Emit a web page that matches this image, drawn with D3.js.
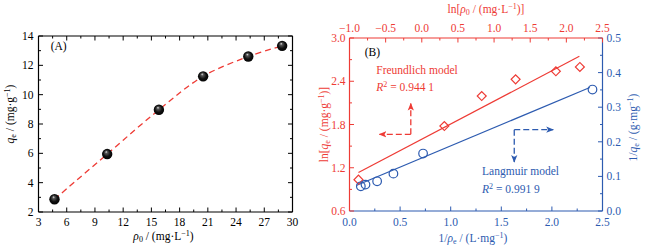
<!DOCTYPE html>
<html><head><meta charset="utf-8">
<script src="https://cdn.jsdelivr.net/npm/d3@7"></script>
<style>
html,body{margin:0;padding:0;background:#fff;}
svg{display:block;font-family:"Liberation Serif","Times New Roman",serif;}
</style></head>
<body>
<svg id="c" width="646" height="252"></svg>
<script>
// ---------- data ----------
// Panel A
const rho0 = [4.7, 10.3, 15.8, 20.5, 25.3, 28.9];
const qe = [2.87, 5.95, 8.97, 11.25, 12.6, 13.33];
const aXTicks = [3, 6, 9, 12, 15, 18, 21, 24, 27, 30];
const aYTicks = [2, 4, 6, 8, 10, 12, 14];
// Panel B - Freundlich (top / left axes)
const lnRho = [-0.876, 0.312, 0.829, 1.298, 1.855, 2.187];
const lnQe = [1.035, 1.779, 2.195, 2.427, 2.538, 2.598];
const freundFit = [[-0.876, 1.133], [2.18, 2.746]];
// Panel B - Langmuir (bottom / right axes)
const invRho = [0.112, 0.158, 0.273, 0.434, 0.727, 2.401];
const invQe = [0.0714, 0.0763, 0.0858, 0.108, 0.166, 0.351];
const langFit = [[0.073, 0.0743], [2.375, 0.357]];
const bTopTicks = [-1.0, -0.5, 0.0, 0.5, 1.0, 1.5, 2.0, 2.5];
const bLeftTicks = [0.6, 1.2, 1.8, 2.4, 3.0];
const bBottomTicks = [0.0, 0.5, 1.0, 1.5, 2.0, 2.5];
const bRightTicks = [0.0, 0.1, 0.2, 0.3, 0.4, 0.5];

const RED = "#ee3b35", BLUE = "#2d5bb0";
const svg = d3.select("#c");
const fs = 11.5;

function sub(t, s) { t.append("tspan").attr("font-size", fs * 0.7).attr("baseline-shift", "-25%").text(s); }
function sup(t, s) { t.append("tspan").attr("font-size", fs * 0.7).attr("baseline-shift", "45%").text(s); }

// gradient for spheres
const defs = svg.append("defs");
const g = defs.append("radialGradient").attr("id", "sph").attr("cx", "50%").attr("cy", "50%").attr("r", "55%").attr("fx", "40%").attr("fy", "28%");
g.append("stop").attr("offset", "0%").attr("stop-color", "#e8e8e8");
g.append("stop").attr("offset", "22%").attr("stop-color", "#555");
g.append("stop").attr("offset", "60%").attr("stop-color", "#111");
g.append("stop").attr("offset", "100%").attr("stop-color", "#000");

function minorTicks(major) {
  const out = [];
  for (let i = 0; i < major.length - 1; i++) out.push((major[i] + major[i + 1]) / 2);
  return out;
}

// generic axis helper: inward ticks
function drawAxis(sel, orient, scale, ticks, color, fmt, labelOffset, showLabels) {
  const gA = sel.append("g");
  const minors = minorTicks(ticks);
  const L = 4.5, l = 2.5;
  const r = scale.range();
  const spine = gA.append("line").attr("stroke", color).attr("stroke-width", 1.2);
  if (orient === "bottom" || orient === "top") spine.attr("x1", r[0]).attr("x2", r[1]);
  else spine.attr("y1", r[0]).attr("y2", r[1]);
  const dir = (orient === "bottom" || orient === "right") ? -1 : 1;
  const addTick = (v, len) => {
    const p = scale(v);
    if (orient === "bottom" || orient === "top") gA.append("line").attr("x1", p).attr("x2", p).attr("y1", 0).attr("y2", dir * len).attr("stroke", color).attr("stroke-width", 1);
    else gA.append("line").attr("y1", p).attr("y2", p).attr("x1", 0).attr("x2", dir * len).attr("stroke", color).attr("stroke-width", 1);
  };
  ticks.forEach(v => addTick(v, L));
  minors.forEach(v => addTick(v, l));
  if (showLabels) {
    ticks.forEach(v => {
      const p = scale(v);
      const t = gA.append("text").attr("fill", color).attr("font-size", fs).text(fmt(v));
      if (orient === "bottom") t.attr("x", p).attr("y", labelOffset).attr("text-anchor", "middle");
      if (orient === "top") t.attr("x", p).attr("y", -labelOffset).attr("text-anchor", "middle");
      if (orient === "left") t.attr("x", -labelOffset).attr("y", p + 4).attr("text-anchor", "end");
      if (orient === "right") t.attr("x", labelOffset).attr("y", p + 4).attr("text-anchor", "start");
    });
  }
  return gA;
}

const fmtMinus = d => (d < 0 ? "\u2212" : "") + Math.abs(d).toFixed(1);

// ---------- Panel A ----------
const A = { l: 38.5, r: 292.5, t: 36, b: 212 };
const xA = d3.scaleLinear().domain([3, 30]).range([A.l, A.r]);
const yA = d3.scaleLinear().domain([2, 14]).range([A.b, A.t]);
drawAxis(svg.append("g").attr("transform", `translate(0,${A.b})`), "bottom", xA, aXTicks, "#000", d => d, 14, true);
drawAxis(svg.append("g").attr("transform", `translate(${A.l},0)`), "left", yA, aYTicks, "#000", d => d, 5, true);
drawAxis(svg.append("g").attr("transform", `translate(0,${A.t})`), "top", xA, aXTicks, "#000", d => d, 0, false);
drawAxis(svg.append("g").attr("transform", `translate(${A.r},0)`), "right", yA, aYTicks, "#000", d => d, 0, false);

const ptsA = rho0.map((x, i) => [x, qe[i]]);
svg.append("path").datum(ptsA)
  .attr("d", d3.line().x(d => xA(d[0])).y(d => yA(d[1])).curve(d3.curveCatmullRom.alpha(0.5)))
  .attr("fill", "none").attr("stroke", RED).attr("stroke-width", 1.3).attr("stroke-dasharray", "6,4");
svg.append("g").selectAll("circle").data(ptsA).join("circle")
  .attr("cx", d => xA(d[0])).attr("cy", d => yA(d[1])).attr("r", 5.2).attr("fill", "url(#sph)");

svg.append("text").attr("x", xA(4.3)).attr("y", yA(13.02)).attr("font-size", fs).text("(A)");
{
  const t = svg.append("text").attr("font-size", fs).attr("text-anchor", "middle").attr("transform", `translate(14,${(A.t + A.b) / 2 - 10}) rotate(-90)`);
  t.append("tspan").attr("font-style", "italic").text("q");
  sub(t, "e");
  t.append("tspan").text(" / (mg\u00B7g");
  sup(t, "\u22121");
  t.append("tspan").text(")");
}
{
  const t = svg.append("text").attr("font-size", fs).attr("text-anchor", "middle").attr("x", (A.l + A.r) / 2 - 2).attr("y", 240);
  t.append("tspan").attr("font-style", "italic").text("\u03C1");
  sub(t, "0");
  t.append("tspan").text(" / (mg\u00B7L");
  sup(t, "\u22121");
  t.append("tspan").text(")");
}

// ---------- Panel B ----------
const B = { l: 349.5, r: 602.5, t: 38, b: 211 };
const xTop = d3.scaleLinear().domain([-1, 2.5]).range([B.l, B.r]);
const yLeft = d3.scaleLinear().domain([0.6, 3.0]).range([B.b, B.t]);
const xBot = d3.scaleLinear().domain([0, 2.5]).range([B.l, B.r]);
const yRight = d3.scaleLinear().domain([0, 0.5]).range([B.b, B.t]);

drawAxis(svg.append("g").attr("transform", `translate(0,${B.b})`), "bottom", xBot, bBottomTicks, BLUE, d => d.toFixed(1), 15, true);
drawAxis(svg.append("g").attr("transform", `translate(${B.r},0)`), "right", yRight, bRightTicks, BLUE, d => d.toFixed(1), 4, true);
drawAxis(svg.append("g").attr("transform", `translate(0,${B.t})`), "top", xTop, bTopTicks, RED, fmtMinus, 6, true);
drawAxis(svg.append("g").attr("transform", `translate(${B.l},0)`), "left", yLeft, bLeftTicks, RED, d => d.toFixed(1), 4, true);

// fits
svg.append("line").attr("x1", xTop(freundFit[0][0])).attr("y1", yLeft(freundFit[0][1]))
  .attr("x2", xTop(freundFit[1][0])).attr("y2", yLeft(freundFit[1][1])).attr("stroke", RED).attr("stroke-width", 1.2);
svg.append("line").attr("x1", xBot(langFit[0][0])).attr("y1", yRight(langFit[0][1]))
  .attr("x2", xBot(langFit[1][0])).attr("y2", yRight(langFit[1][1])).attr("stroke", BLUE).attr("stroke-width", 1.2);

// markers
svg.append("g").selectAll("path").data(lnRho.map((x, i) => [x, lnQe[i]])).join("path")
  .attr("d", d3.symbol(d3.symbolSquare, 40))
  .attr("transform", d => `translate(${xTop(d[0])},${yLeft(d[1])}) rotate(45)`)
  .attr("fill", "none").attr("stroke", RED).attr("stroke-width", 1.2);
svg.append("g").selectAll("circle").data(invRho.map((x, i) => [x, invQe[i]])).join("circle")
  .attr("cx", d => xBot(d[0])).attr("cy", d => yRight(d[1])).attr("r", 4.3)
  .attr("fill", "none").attr("stroke", BLUE).attr("stroke-width", 1.2);

// annotations
svg.append("text").attr("x", xTop(-0.79)).attr("y", yLeft(2.75)).attr("font-size", fs).text("(B)");
svg.append("text").attr("x", xTop(-0.63)).attr("y", yLeft(2.50)).attr("font-size", fs).attr("fill", RED).text("Freundlich model");
{
  const t = svg.append("text").attr("x", xTop(-0.63)).attr("y", yLeft(2.27)).attr("font-size", fs).attr("fill", RED);
  t.append("tspan").attr("font-style", "italic").text("R");
  sup(t, "2");
  t.append("tspan").text(" = 0.944 1");
}
svg.append("text").attr("x", xBot(1.31)).attr("y", yRight(0.103)).attr("font-size", fs).attr("fill", BLUE).text("Langmuir model");
{
  const t = svg.append("text").attr("x", xBot(1.31)).attr("y", yRight(0.051)).attr("font-size", fs).attr("fill", BLUE);
  t.append("tspan").attr("font-style", "italic").text("R");
  sup(t, "2");
  t.append("tspan").text(" = 0.991 9");
}

// arrow heads
function marker(id, color) {
  defs.append("marker").attr("id", id).attr("viewBox", "0 0 10 10").attr("refX", 9).attr("refY", 5)
    .attr("markerWidth", 6).attr("markerHeight", 6).attr("orient", "auto-start-reverse").attr("markerUnits", "strokeWidth")
    .append("path").attr("d", "M0,1 L10,5 L0,9 L2.5,5 Z").attr("fill", color);
}
marker("ar", RED); marker("ab", BLUE);
// red L-arrow
const rc = [xTop(-0.152), yLeft(1.664)];
svg.append("path").attr("d", `M${rc[0]},${rc[1]} L${rc[0]},${yLeft(2.09)}`).attr("stroke", RED).attr("stroke-width", 1.3)
  .attr("stroke-dasharray", "6,3").attr("fill", "none").attr("marker-end", "url(#ar)");
svg.append("path").attr("d", `M${rc[0]},${rc[1]} L${xTop(-0.586)},${rc[1]}`).attr("stroke", RED).attr("stroke-width", 1.3)
  .attr("stroke-dasharray", "6,3").attr("fill", "none").attr("marker-end", "url(#ar)");
// blue L-arrow
const bc = [xBot(1.628), yRight(0.235)];
svg.append("path").attr("d", `M${bc[0]},${bc[1]} L${xBot(2.013)},${bc[1]}`).attr("stroke", BLUE).attr("stroke-width", 1.3)
  .attr("stroke-dasharray", "6,3").attr("fill", "none").attr("marker-end", "url(#ab)");
svg.append("path").attr("d", `M${bc[0]},${bc[1]} L${bc[0]},${yRight(0.1416)}`).attr("stroke", BLUE).attr("stroke-width", 1.3)
  .attr("stroke-dasharray", "6,3").attr("fill", "none").attr("marker-end", "url(#ab)");

// axis titles
{
  const t = svg.append("text").attr("font-size", fs).attr("fill", RED).attr("text-anchor", "middle").attr("x", (B.l + B.r) / 2 + 10).attr("y", 13);
  t.append("tspan").text("ln[");
  t.append("tspan").attr("font-style", "italic").text("\u03C1");
  sub(t, "0");
  t.append("tspan").text(" / (mg\u00B7L");
  sup(t, "\u22121");
  t.append("tspan").text(")]");
}
{
  const t = svg.append("text").attr("font-size", fs).attr("fill", BLUE).attr("text-anchor", "middle").attr("x", (B.l + B.r) / 2 - 3).attr("y", 242);
  t.append("tspan").text("1/");
  t.append("tspan").attr("font-style", "italic").text("\u03C1");
  sub(t, "e");
  t.append("tspan").text(" / (L\u00B7mg");
  sup(t, "\u22121");
  t.append("tspan").text(")");
}
{
  const t = svg.append("text").attr("font-size", fs).attr("fill", RED).attr("text-anchor", "middle").attr("transform", `translate(328,${(B.t + B.b) / 2}) rotate(-90)`);
  t.append("tspan").text("ln[");
  t.append("tspan").attr("font-style", "italic").text("q");
  sub(t, "e");
  t.append("tspan").text(" / (mg\u00B7g");
  sup(t, "\u22121");
  t.append("tspan").text(")]");
}
{
  const t = svg.append("text").attr("font-size", fs).attr("fill", BLUE).attr("text-anchor", "middle").attr("transform", `translate(637,${(B.t + B.b) / 2 + 3}) rotate(-90)`);
  t.append("tspan").text("1/");
  t.append("tspan").attr("font-style", "italic").text("q");
  sub(t, "e");
  t.append("tspan").text(" / (g\u00B7mg");
  sup(t, "\u22121");
  t.append("tspan").text(")");
}
</script>
</body></html>
